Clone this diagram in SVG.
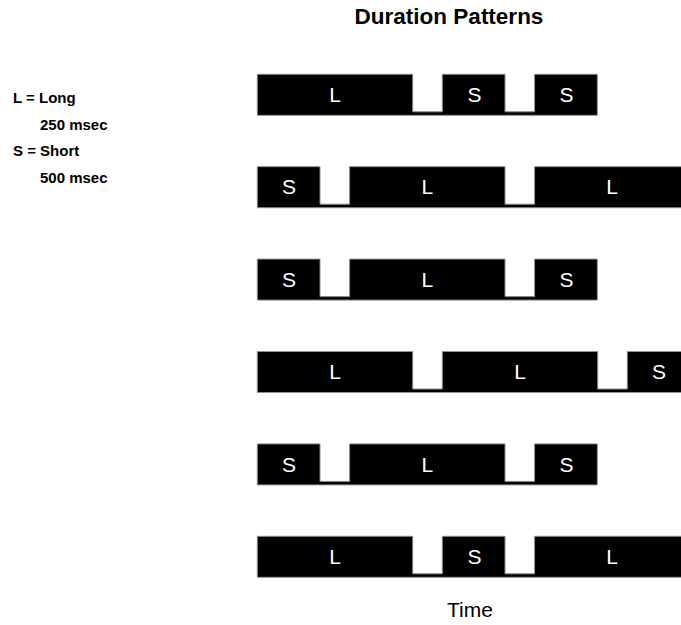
<svg xmlns="http://www.w3.org/2000/svg" width="681" height="625" viewBox="0 0 681 625">
<style>
.bar{fill:#000;stroke:#8c8c8c;stroke-width:1}
.lbl{font-family:"Liberation Sans",Arial,sans-serif;font-size:21px;fill:#fff;text-anchor:middle}
.leg{font-family:"Liberation Sans",Arial,sans-serif;font-size:15px;font-weight:bold;fill:#000}
.ttl{font-family:"Liberation Sans",Arial,sans-serif;font-size:22.5px;font-weight:bold;fill:#000;text-anchor:middle}
.time{font-family:"Liberation Sans",Arial,sans-serif;font-size:21px;fill:#000;text-anchor:middle}
</style>
<rect width="681" height="625" fill="#fff"/>
<text class="ttl" x="449" y="24">Duration Patterns</text>
<g id="legend">
<text class="leg" x="13" y="102.5">L = Long</text>
<text class="leg" x="40" y="130">250 msec</text>
<text class="leg" x="13" y="156">S = Short</text>
<text class="leg" x="40" y="182.5">500 msec</text>
</g>
<g id="row1">
<path class="bar" d="M257.3,74.3 H412.7 V111.8 H442.3 V74.3 H505 V111.8 H534.6 V74.3 H597.3 V115.3 H257.3 Z"/>
<text class="lbl" x="335" y="102">L</text>
<text class="lbl" x="474.5" y="102">S</text>
<text class="lbl" x="566.5" y="102">S</text>
</g>
<g id="row2">
<path class="bar" d="M257.3,166.7 H320 V204.2 H349.6 V166.7 H505 V204.2 H534.6 V166.7 H690 V207.7 H257.3 Z"/>
<text class="lbl" x="289" y="194.4">S</text>
<text class="lbl" x="427.3" y="194.4">L</text>
<text class="lbl" x="612" y="194.4">L</text>
</g>
<g id="row3">
<path class="bar" d="M257.3,259.1 H320 V296.6 H349.6 V259.1 H505 V296.6 H534.6 V259.1 H597.3 V300.1 H257.3 Z"/>
<text class="lbl" x="289" y="286.8">S</text>
<text class="lbl" x="427.3" y="286.8">L</text>
<text class="lbl" x="566.5" y="286.8">S</text>
</g>
<g id="row4">
<path class="bar" d="M257.3,351.5 H412.7 V389 H442.3 V351.5 H597.7 V389 H627.3 V351.5 H690 V392.5 H257.3 Z"/>
<text class="lbl" x="335" y="379.2">L</text>
<text class="lbl" x="520" y="379.2">L</text>
<text class="lbl" x="659" y="379.2">S</text>
</g>
<g id="row5">
<path class="bar" d="M257.3,443.9 H320 V481.4 H349.6 V443.9 H505 V481.4 H534.6 V443.9 H597.3 V484.9 H257.3 Z"/>
<text class="lbl" x="289" y="471.6">S</text>
<text class="lbl" x="427.3" y="471.6">L</text>
<text class="lbl" x="566.5" y="471.6">S</text>
</g>
<g id="row6">
<path class="bar" d="M257.3,536.3 H412.7 V573.8 H442.3 V536.3 H505 V573.8 H534.6 V536.3 H690 V577.3 H257.3 Z"/>
<text class="lbl" x="335" y="564">L</text>
<text class="lbl" x="474.5" y="564">S</text>
<text class="lbl" x="612" y="564">L</text>
</g>
<text class="time" x="470" y="617">Time</text>
</svg>
